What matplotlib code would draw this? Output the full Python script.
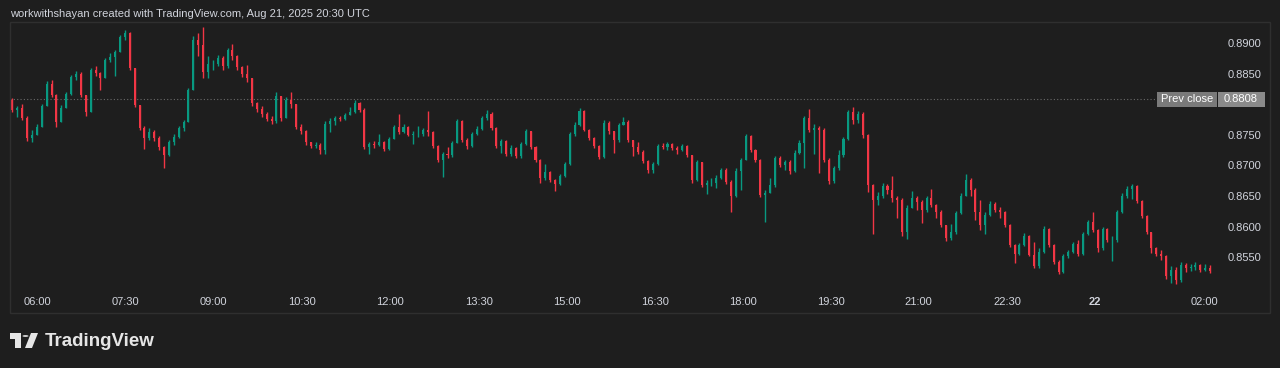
import matplotlib
matplotlib.use("Agg")
import matplotlib.pyplot as plt
from matplotlib.patches import Rectangle, Circle, Polygon
import numpy as np

plt.rcParams["font.family"] = ["Liberation Sans", "DejaVu Sans"]

W, H = 1280, 368
BG = "#1e1e1e"
UP = "#089981"
DOWN = "#f23645"
TXT = "#d1d4dc"

# 5-minute bars, starting ~05:30
FIRST_OPEN = 0.8807
CLOSE = [
    0.8791, 0.8794, 0.8778, 0.8745, 0.8750, 0.8763, 0.8797, 0.8833, 0.8815, 0.8771,
    0.8794, 0.8817, 0.8845, 0.8849, 0.8815, 0.8787, 0.8856, 0.8851, 0.8843, 0.8872,
    0.8877, 0.8885, 0.8910, 0.8916, 0.8859, 0.8799, 0.8761, 0.8745, 0.8755, 0.8745,
    0.8730, 0.8717, 0.8738, 0.8747, 0.8761, 0.8771, 0.8823, 0.8905, 0.8897, 0.8853,
    0.8866, 0.8866, 0.8876, 0.8862, 0.8889, 0.8879, 0.8861, 0.8849, 0.8843, 0.8802,
    0.8792, 0.8784, 0.8776, 0.8773, 0.8813, 0.8778, 0.8807, 0.8800, 0.8763, 0.8756,
    0.8738, 0.8732, 0.8733, 0.8725, 0.8768, 0.8773, 0.8778, 0.8776, 0.8782, 0.8787,
    0.8802, 0.8791, 0.8730, 0.8735, 0.8733, 0.8738, 0.8727, 0.8743, 0.8763, 0.8755,
    0.8763, 0.8750, 0.8751, 0.8751, 0.8758, 0.8755, 0.8732, 0.8709, 0.8719, 0.8717,
    0.8737, 0.8773, 0.8742, 0.8732, 0.8751, 0.8760, 0.8778, 0.8784, 0.8761, 0.8732,
    0.8740, 0.8719, 0.8728, 0.8715, 0.8735, 0.8756, 0.8730, 0.8709, 0.8679, 0.8689,
    0.8676, 0.8670, 0.8683, 0.8702, 0.8751, 0.8766, 0.8789, 0.8758, 0.8745, 0.8732,
    0.8714, 0.8769, 0.8756, 0.8742, 0.8766, 0.8771, 0.8742, 0.8730, 0.8722, 0.8707,
    0.8693, 0.8702, 0.8732, 0.8730, 0.8735, 0.8728, 0.8725, 0.8732, 0.8717, 0.8676,
    0.8706, 0.8668, 0.8671, 0.8671, 0.8679, 0.8693, 0.8673, 0.8650, 0.8691, 0.8709,
    0.8748, 0.8725, 0.8709, 0.8652, 0.8655, 0.8668, 0.8712, 0.8701, 0.8706, 0.8691,
    0.8720, 0.8737, 0.8778, 0.8758, 0.8761, 0.8758, 0.8709, 0.8675, 0.8696, 0.8717,
    0.8743, 0.8787, 0.8774, 0.8784, 0.8750, 0.8668, 0.8644, 0.8650, 0.8666, 0.8660,
    0.8647, 0.8644, 0.8591, 0.8630, 0.8647, 0.8640, 0.8627, 0.8647, 0.8635, 0.8624,
    0.8603, 0.8581, 0.8591, 0.8622, 0.8650, 0.8676, 0.8660, 0.8624, 0.8603, 0.8619,
    0.8637, 0.8627, 0.8624, 0.8603, 0.8570, 0.8555, 0.8570, 0.8585, 0.8554, 0.8536,
    0.8559, 0.8596, 0.8570, 0.8542, 0.8526, 0.8552, 0.8559, 0.8572, 0.8555, 0.8588,
    0.8608, 0.8595, 0.8565, 0.8596, 0.8578, 0.8578, 0.8624, 0.8650, 0.8662, 0.8666,
    0.8642, 0.8617, 0.8591, 0.8565, 0.8555, 0.8552, 0.8519, 0.8529, 0.8513, 0.8537,
    0.8532, 0.8534, 0.8537, 0.8529, 0.8532, 0.8527,
]
HIGH = [
    0.8810, 0.8797, 0.8800, 0.8781, 0.8758, 0.8768, 0.8800, 0.8838, 0.8840, 0.8817,
    0.8799, 0.8820, 0.8848, 0.8854, 0.8853, 0.8815, 0.8859, 0.8862, 0.8853, 0.8876,
    0.8884, 0.8889, 0.8913, 0.8921, 0.8918, 0.8859, 0.8799, 0.8764, 0.8761, 0.8758,
    0.8748, 0.8732, 0.8742, 0.8751, 0.8764, 0.8774, 0.8827, 0.8912, 0.8916, 0.8926,
    0.8879, 0.8872, 0.8880, 0.8879, 0.8892, 0.8898, 0.8880, 0.8862, 0.8864, 0.8843,
    0.8804, 0.8797, 0.8787, 0.8781, 0.8820, 0.8813, 0.8812, 0.8820, 0.8800, 0.8768,
    0.8758, 0.8738, 0.8738, 0.8737, 0.8773, 0.8778, 0.8781, 0.8781, 0.8786, 0.8796,
    0.8807, 0.8804, 0.8794, 0.8738, 0.8740, 0.8751, 0.8740, 0.8747, 0.8766, 0.8784,
    0.8768, 0.8764, 0.8756, 0.8764, 0.8761, 0.8789, 0.8756, 0.8733, 0.8722, 0.8730,
    0.8740, 0.8776, 0.8774, 0.8745, 0.8755, 0.8764, 0.8781, 0.8791, 0.8787, 0.8763,
    0.8743, 0.8742, 0.8733, 0.8730, 0.8738, 0.8760, 0.8756, 0.8732, 0.8711, 0.8702,
    0.8691, 0.8678, 0.8686, 0.8706, 0.8755, 0.8771, 0.8794, 0.8791, 0.8759, 0.8747,
    0.8733, 0.8774, 0.8773, 0.8753, 0.8769, 0.8779, 0.8774, 0.8742, 0.8738, 0.8725,
    0.8709, 0.8706, 0.8735, 0.8737, 0.8738, 0.8737, 0.8732, 0.8735, 0.8733, 0.8717,
    0.8709, 0.8706, 0.8676, 0.8679, 0.8684, 0.8696, 0.8696, 0.8676, 0.8696, 0.8712,
    0.8751, 0.8750, 0.8727, 0.8711, 0.8660, 0.8679, 0.8715, 0.8715, 0.8709, 0.8709,
    0.8725, 0.8742, 0.8781, 0.8792, 0.8768, 0.8764, 0.8761, 0.8712, 0.8699, 0.8725,
    0.8747, 0.8791, 0.8796, 0.8789, 0.8787, 0.8751, 0.8670, 0.8657, 0.8671, 0.8670,
    0.8683, 0.8650, 0.8647, 0.8635, 0.8658, 0.8650, 0.8644, 0.8650, 0.8661, 0.8637,
    0.8627, 0.8603, 0.8604, 0.8626, 0.8655, 0.8686, 0.8679, 0.8663, 0.8644, 0.8624,
    0.8642, 0.8640, 0.8632, 0.8626, 0.8604, 0.8572, 0.8573, 0.8590, 0.8586, 0.8575,
    0.8565, 0.8601, 0.8598, 0.8572, 0.8545, 0.8555, 0.8562, 0.8575, 0.8578, 0.8591,
    0.8611, 0.8624, 0.8596, 0.8599, 0.8598, 0.8585, 0.8627, 0.8655, 0.8666, 0.8670,
    0.8668, 0.8644, 0.8619, 0.8591, 0.8567, 0.8562, 0.8554, 0.8536, 0.8534, 0.8542,
    0.8541, 0.8539, 0.8542, 0.8539, 0.8539, 0.8537,
]
LOW = [
    0.8787, 0.8779, 0.8774, 0.8740, 0.8738, 0.8750, 0.8766, 0.8797, 0.8812, 0.8763,
    0.8778, 0.8794, 0.8815, 0.8840, 0.8812, 0.8781, 0.8787, 0.8846, 0.8823, 0.8843,
    0.8869, 0.8846, 0.8885, 0.8905, 0.8856, 0.8796, 0.8758, 0.8727, 0.8742, 0.8740,
    0.8725, 0.8696, 0.8715, 0.8733, 0.8745, 0.8756, 0.8771, 0.8823, 0.8879, 0.8843,
    0.8843, 0.8856, 0.8862, 0.8856, 0.8859, 0.8872, 0.8856, 0.8845, 0.8836, 0.8797,
    0.8787, 0.8779, 0.8773, 0.8768, 0.8769, 0.8773, 0.8787, 0.8794, 0.8759, 0.8751,
    0.8733, 0.8728, 0.8728, 0.8719, 0.8719, 0.8755, 0.8766, 0.8773, 0.8774, 0.8784,
    0.8786, 0.8787, 0.8727, 0.8719, 0.8728, 0.8732, 0.8724, 0.8725, 0.8743, 0.8751,
    0.8753, 0.8748, 0.8735, 0.8747, 0.8748, 0.8748, 0.8728, 0.8706, 0.8681, 0.8712,
    0.8714, 0.8737, 0.8738, 0.8727, 0.8730, 0.8750, 0.8758, 0.8774, 0.8758, 0.8728,
    0.8720, 0.8715, 0.8715, 0.8712, 0.8712, 0.8733, 0.8727, 0.8706, 0.8671, 0.8676,
    0.8673, 0.8658, 0.8668, 0.8681, 0.8701, 0.8748, 0.8764, 0.8756, 0.8742, 0.8728,
    0.8711, 0.8712, 0.8751, 0.8720, 0.8738, 0.8766, 0.8738, 0.8715, 0.8719, 0.8704,
    0.8688, 0.8688, 0.8701, 0.8727, 0.8725, 0.8725, 0.8719, 0.8724, 0.8714, 0.8671,
    0.8675, 0.8665, 0.8653, 0.8666, 0.8663, 0.8678, 0.8670, 0.8624, 0.8648, 0.8660,
    0.8709, 0.8722, 0.8706, 0.8648, 0.8608, 0.8663, 0.8665, 0.8697, 0.8693, 0.8686,
    0.8689, 0.8719, 0.8696, 0.8755, 0.8719, 0.8688, 0.8706, 0.8670, 0.8671, 0.8693,
    0.8714, 0.8742, 0.8768, 0.8769, 0.8745, 0.8657, 0.8588, 0.8635, 0.8647, 0.8653,
    0.8640, 0.8614, 0.8585, 0.8580, 0.8632, 0.8627, 0.8606, 0.8624, 0.8632, 0.8614,
    0.8599, 0.8577, 0.8578, 0.8588, 0.8621, 0.8668, 0.8650, 0.8611, 0.8595, 0.8588,
    0.8617, 0.8624, 0.8614, 0.8599, 0.8567, 0.8541, 0.8554, 0.8568, 0.8552, 0.8532,
    0.8532, 0.8557, 0.8567, 0.8539, 0.8523, 0.8524, 0.8549, 0.8557, 0.8552, 0.8554,
    0.8586, 0.8591, 0.8559, 0.8562, 0.8575, 0.8544, 0.8575, 0.8622, 0.8647, 0.8645,
    0.8639, 0.8614, 0.8588, 0.8557, 0.8552, 0.8545, 0.8514, 0.8508, 0.8506, 0.8510,
    0.8526, 0.8527, 0.8529, 0.8526, 0.8527, 0.8524,
]

PREV_CLOSE = 0.8808
# 0.8800 sits under the prev-close label, so it is left out
PRICE_TICKS = [0.8550, 0.8600, 0.8650, 0.8700, 0.8750, 0.8850, 0.8900]
TIME_LABELS = ["06:00", "07:30", "09:00", "10:30", "12:00", "13:30", "15:00",
               "16:30", "18:00", "19:30", "21:00", "22:30", "22", "02:00"]
# label positions in bar units, as placed on the reference axis
TIME_POS = [5.7, 23.7, 41.7, 59.7, 77.7, 95.9, 113.9,
            131.9, 149.9, 167.9, 185.9, 204.0, 222.0, 244.3]

HEADER = "workwithshayan created with TradingView.com, Aug 21, 2025 20:30 UTC"


def fx(px):
    return px / W


def fy(py):
    return 1 - py / H


close = np.array(CLOSE)
opn = np.concatenate([[FIRST_OPEN], close[:-1]])
high = np.maximum.reduce([np.array(HIGH), opn, close])
low = np.minimum.reduce([np.array(LOW), opn, close])
x = np.arange(len(close)) + 0.5
colors = np.where(close >= opn, UP, DOWN)

fig = plt.figure(figsize=(W / 100, H / 100), dpi=100, facecolor=BG)
ax = fig.add_axes([fx(10), fy(290), fx(1215) - fx(10), fy(22) - fy(290)])
ax.set_facecolor(BG)
for s in ax.spines.values():
    s.set_visible(False)

ax.vlines(x, low, high, colors=colors, linewidth=1.0, zorder=2)
body_lo = np.minimum(opn, close)
body_h = np.maximum(np.abs(close - opn), 0.00003)
ax.bar(x, body_h, bottom=body_lo, width=0.42, color=colors, linewidth=0, zorder=3)

ax.axhline(PREV_CLOSE, xmin=0, xmax=(1157 - 10) / 1205, color="#6a6a6a",
           linestyle=(0, (1, 2)), linewidth=0.8, zorder=1)

ax.set_xlim(0, 246.5)
ax.set_ylim(0.84964, 0.89344)

ax.set_xticks(TIME_POS)
ax.set_xticklabels(TIME_LABELS)
ax.set_yticks(PRICE_TICKS)
ax.set_yticklabels([f"{v:.4f}" for v in PRICE_TICKS])
ax.yaxis.tick_right()
ax.tick_params(axis="x", length=0, pad=5, labelsize=8, colors=TXT)
ax.tick_params(axis="y", length=0, pad=9, labelsize=8, colors=TXT)
for lbl in ax.get_xticklabels():
    if lbl.get_text() == "22":
        lbl.set_fontweight("bold")

# outer frame
fig.add_artist(Rectangle((fx(10), fy(313)), fx(1270) - fx(10), fy(22) - fy(313),
                         transform=fig.transFigure, fill=False,
                         edgecolor="#2f2f2f", linewidth=1.0))

# prev close labels
fig.add_artist(Rectangle((fx(1157), fy(107)), fx(1217) - fx(1157), fy(92) - fy(107),
                         transform=fig.transFigure, facecolor="#7a7a7a",
                         edgecolor="none", zorder=5))
fig.add_artist(Rectangle((fx(1218), fy(107)), fx(1265) - fx(1218), fy(92) - fy(107),
                         transform=fig.transFigure, facecolor="#8a8a8a",
                         edgecolor="none", zorder=5))
fig.text(fx(1187), fy(99.5), "Prev close", color="white", fontsize=8,
         ha="center", va="center", zorder=6)
fig.text(fx(1241), fy(99.5), f"{PREV_CLOSE:.4f}", color="white", fontsize=8,
         ha="center", va="center", zorder=6)

fig.text(fx(10), fy(14), HEADER, color=TXT, fontsize=8, ha="left", va="center")

# TradingView logo
logo = "#e6e6e6"
fig.add_artist(Rectangle((fx(10), fy(339)), fx(21) - fx(10), fy(333) - fy(339),
                         transform=fig.transFigure, facecolor=logo, edgecolor="none"))
fig.add_artist(Rectangle((fx(15), fy(348)), fx(21) - fx(15), fy(333) - fy(348),
                         transform=fig.transFigure, facecolor=logo, edgecolor="none"))
fig.add_artist(Circle((fx(25.5), fy(336)), 3.0 / W, transform=fig.transFigure,
                      facecolor=logo, edgecolor="none"))
fig.add_artist(Polygon([(fx(31), fy(333)), (fx(38), fy(333)), (fx(32), fy(348)),
                        (fx(25), fy(348))], closed=True, transform=fig.transFigure,
                       facecolor=logo, edgecolor="none"))
fig.text(fx(45), fy(341), "TradingView", color=logo, fontsize=13.5,
         fontweight="bold", ha="left", va="center")

fig.savefig("out.png", dpi=100, facecolor=BG)
